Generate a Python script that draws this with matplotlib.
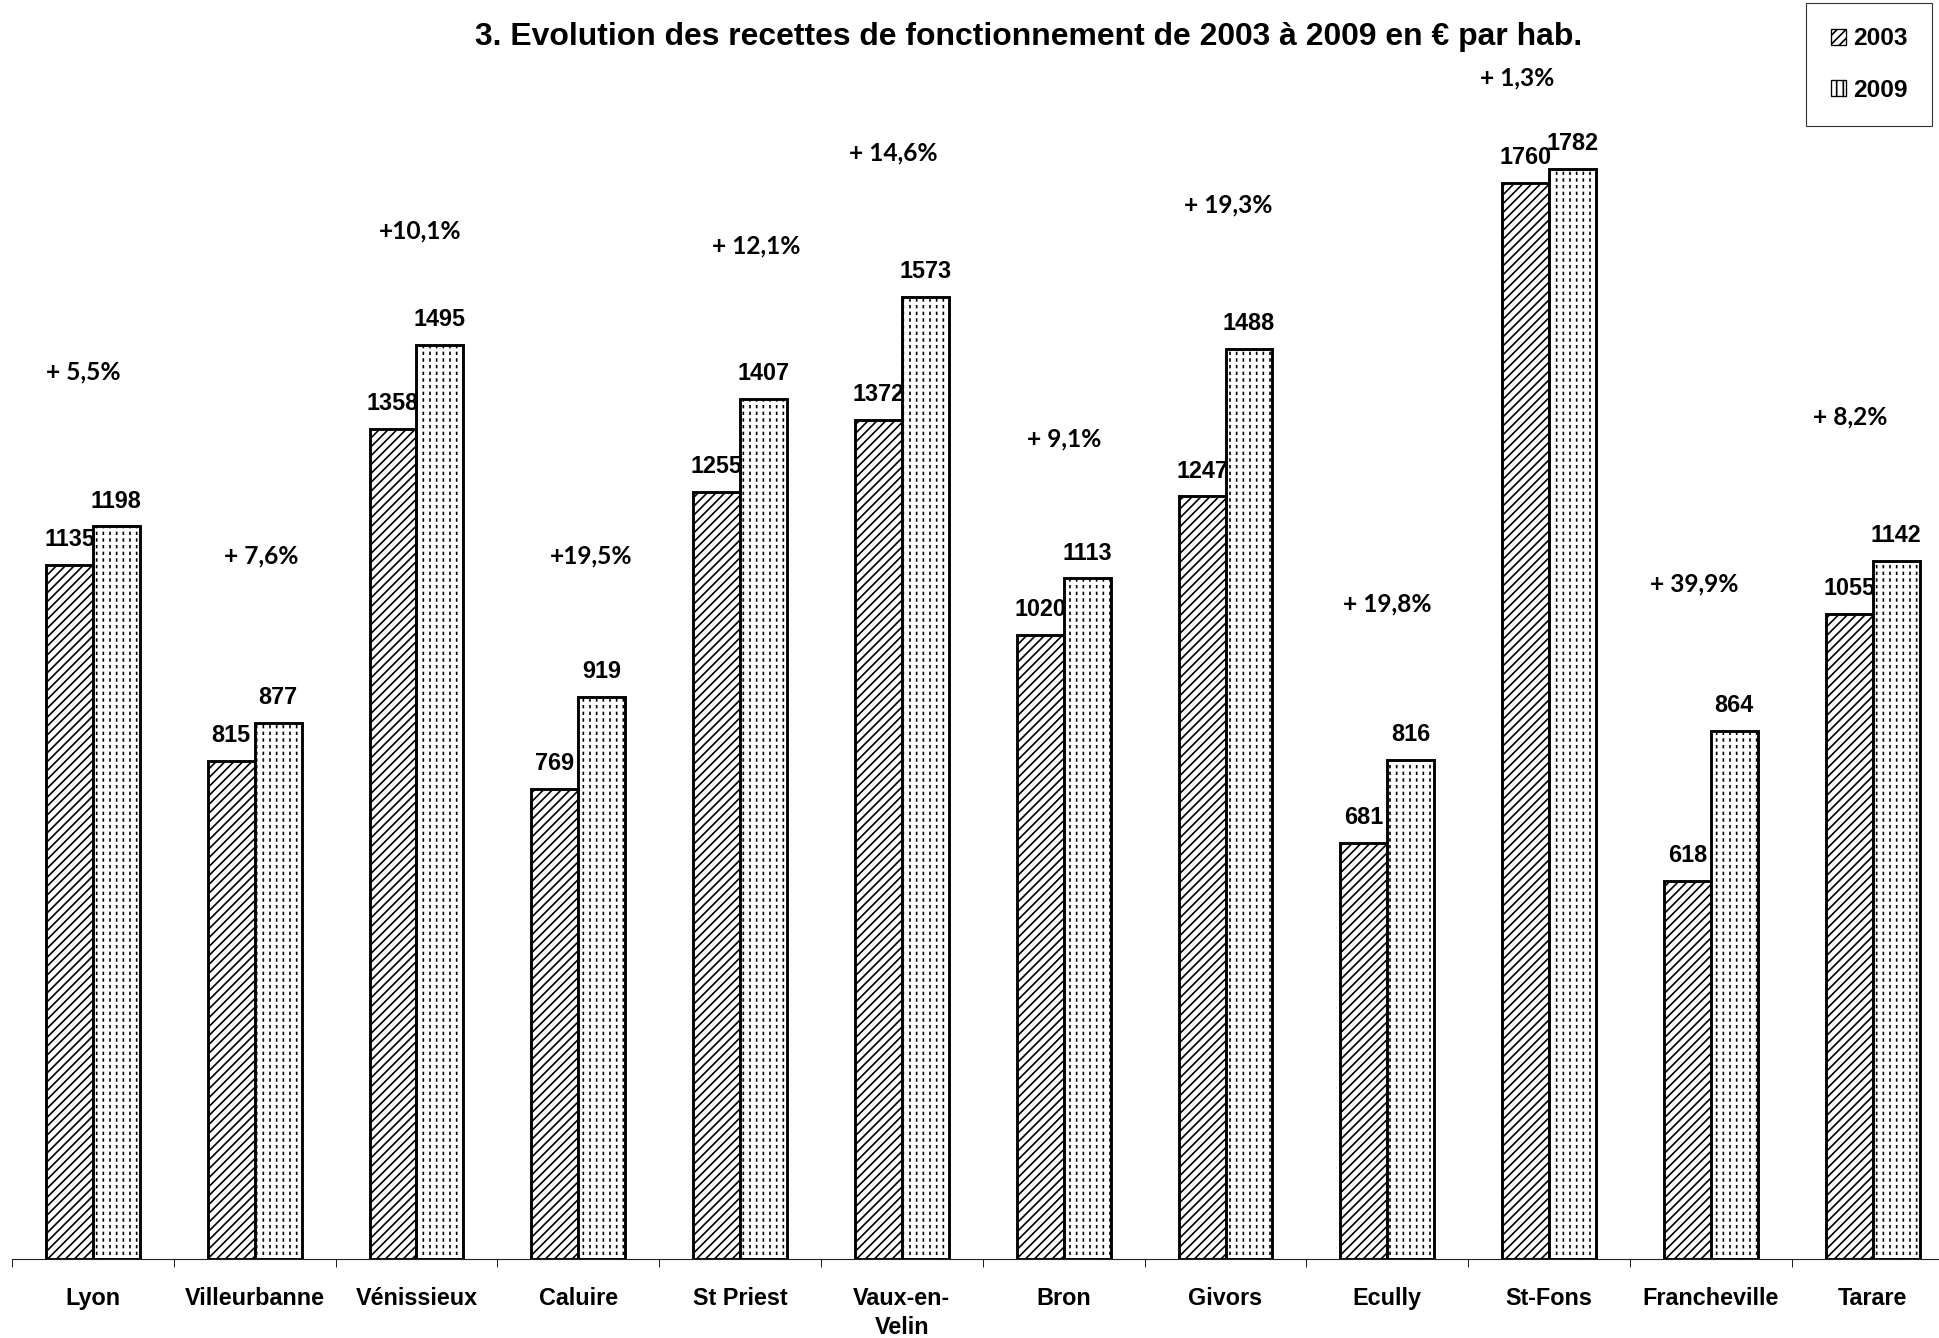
import matplotlib
matplotlib.use('Agg')
import matplotlib.pyplot as plt
from matplotlib.patches import Patch
import numpy as np

# ---------------- data ----------------
categories = ['Lyon', 'Villeurbanne', 'Vénissieux', 'Caluire', 'St Priest',
              'Vaux-en-\nVelin', 'Bron', 'Givors', 'Ecully', 'St-Fons',
              'Francheville', 'Tarare']
values_2003 = [1135, 815, 1358, 769, 1255, 1372, 1020, 1247, 681, 1760, 618, 1055]
values_2009 = [1198, 877, 1495, 919, 1407, 1573, 1113, 1488, 816, 1782, 864, 1142]
pct_labels = ['+ 5,5%', '+ 7,6%', '+10,1%', '+19,5%', '+ 12,1%', '+ 14,6%',
              '+ 9,1%', '+ 19,3%', '+ 19,8%', '+ 1,3%', '+ 39,9%', '+ 8,2%']
series_names = ['2003', '2009']
title = '3. Evolution des recettes de fonctionnement de 2003 à 2009 en € par hab.'

# ---------------- layout (positions of the % annotations) ----------------
pct_dx = [-0.06, 0.04, 0.02, 0.08, 0.10, -0.05, 0.0, 0.02, 0.0, -0.20, -0.10, -0.14]
pct_y = [1450, 1149, 1681, 1149, 1656, 1808, 1341, 1723, 1072, 1931, 1104, 1377]

DPI = 80
W, H = 1939, 1338
fig = plt.figure(figsize=(W / DPI, H / DPI), dpi=DPI)
fig.patch.set_facecolor('white')

ax = fig.add_axes([12 / W, 1 - 1259 / H, 1941.6 / W, 1223 / H])
ax.set_xlim(-0.5, len(categories) - 0.5)
ax.set_ylim(0, 2000)

x = np.arange(len(categories))
w = 0.29
EDGE = 2.6

plt.rcParams['hatch.linewidth'] = 1.5
b1 = ax.bar(x - w / 2, values_2003, w, facecolor='white', edgecolor='black',
            hatch='///', linewidth=EDGE, zorder=2)
b2 = ax.bar(x + w / 2, values_2009, w, facecolor='white', edgecolor='black',
            hatch='||', linewidth=0, zorder=2)
with plt.rc_context({'hatch.linewidth': 3.0}):
    b2w = ax.bar(x + w / 2, values_2009, w, fill=False, edgecolor='white',
                 hatch='--', linewidth=0, zorder=3)
for p in b2w:
    if hasattr(p, 'set_hatch_linewidth'):
        p.set_hatch_linewidth(3.0)
for p in list(b1) + list(b2):
    if hasattr(p, 'set_hatch_linewidth'):
        p.set_hatch_linewidth(1.5)
b2o = ax.bar(x + w / 2, values_2009, w, fill=False, edgecolor='black',
             linewidth=EDGE, zorder=4)

# spines & ticks
for s in ['left', 'right', 'top']:
    ax.spines[s].set_visible(False)
ax.spines['bottom'].set_linewidth(1.0)
ax.spines['bottom'].set_color('#222222')
ax.set_yticks([])
ax.set_xticks(x)
ax.set_xticklabels(categories, fontsize=21, fontweight='bold',
                   family=['Liberation Sans', 'DejaVu Sans'], linespacing=1.35)
ax.set_xticks(np.arange(-0.5, len(categories), 1.0), minor=True)
ax.tick_params(axis='x', which='major', length=0, pad=25)
ax.tick_params(axis='x', which='minor', length=7, width=0.9, direction='out',
               color='#222222')

# value labels
for xi, v in zip(x, values_2003):
    ax.annotate(str(v), (xi - w / 2, v), xytext=(0, 17), textcoords='offset points',
                ha='center', va='baseline', fontsize=21, fontweight='bold',
                family='Liberation Sans', zorder=6)
for xi, v in zip(x, values_2009):
    ax.annotate(str(v), (xi + w / 2, v), xytext=(0, 17), textcoords='offset points',
                ha='center', va='baseline', fontsize=21, fontweight='bold',
                family='Liberation Sans', zorder=6)

# percentage labels
for xi, s, dx, py in zip(x, pct_labels, pct_dx, pct_y):
    ax.text(xi + dx, py, s, ha='center', va='center', fontsize=22,
            fontweight='bold', family=['Lato', 'DejaVu Sans'], zorder=6)

# title
fig.text(1029 / W, 1 - 37 / H, title, ha='center', va='center', fontsize=28.7,
         fontweight='bold', family=['Liberation Sans', 'DejaVu Sans'])

# legend
handles = [Patch(facecolor='white', edgecolor='black', hatch='///', linewidth=1.2),
           Patch(facecolor='white', edgecolor='black', hatch='||', linewidth=1.2)]
leg = fig.legend(handles, series_names, loc='upper right',
                 bbox_to_anchor=(1932 / W, 1 - 3 / H), borderaxespad=0,
                 prop={'family': 'Liberation Sans', 'weight': 'bold', 'size': 22},
                 handlelength=0.62, handleheight=0.62, handletextpad=0.3,
                 labelspacing=1.15, borderpad=1.0, fancybox=False,
                 framealpha=1, edgecolor='#333333')
leg.get_frame().set_linewidth(1.0)

fig.savefig('out.png', dpi=DPI, facecolor='white')
